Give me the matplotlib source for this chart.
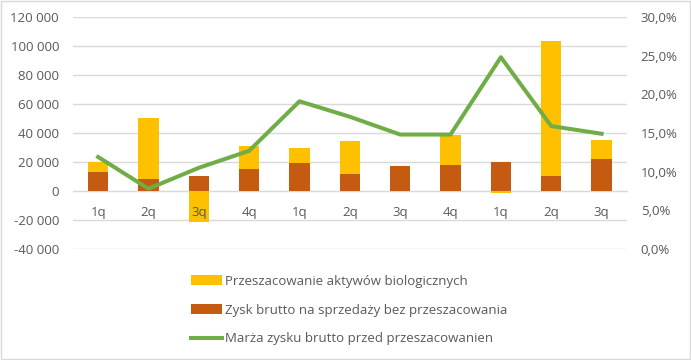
import matplotlib.pyplot as plt
from matplotlib.patches import Rectangle
from matplotlib.ticker import FuncFormatter, MultipleLocator

# data
quarters = ["1q", "2q", "3q", "4q", "1q", "2q", "3q", "4q", "1q", "2q", "3q"]
zysk_bez = [13000, 8300, 10300, 15200, 19300, 11700, 17200, 17900, 20000, 10300, 22000]
przeszac = [7000, 42000, -21200, 16000, 10500, 22800, 0, 20700, -1400, 93000, 13200]
marza = [0.119, 0.078, 0.105, 0.127, 0.191, 0.171, 0.148, 0.148, 0.248, 0.159, 0.149]

lbl_yellow = "Przeszacowanie aktywów biologicznych"
lbl_brown = "Zysk brutto na sprzedaży bez przeszacowania"
lbl_line = "Marża zysku brutto przed przeszacowanien"

plt.rcParams['font.family'] = ['Open Sans', 'DejaVu Sans']
txt_col = "#595959"

fig = plt.figure(figsize=(6.91, 3.6), dpi=100)
ax = fig.add_axes([0.1056, 0.3083, 0.8014, 0.6445])

x = list(range(len(quarters)))
ax.bar(x, zysk_bez, width=0.4, color="#C55A11", label=lbl_brown, zorder=2)
bottoms = [z if p >= 0 else 0 for z, p in zip(zysk_bez, przeszac)]
ax.bar(x, przeszac, width=0.4, bottom=bottoms, color="#FFC000", label=lbl_yellow, zorder=2)

ax.set_xlim(-0.5, len(quarters) - 0.5)
ax.set_ylim(-40000, 120000)
ax.yaxis.set_major_locator(MultipleLocator(20000))
ax.yaxis.set_major_formatter(FuncFormatter(lambda v, p: f"{int(v):,}".replace(",", " ")))
ax.grid(axis="y", color="#d9d9d9", lw=1)
ax.set_axisbelow(True)
ax.xaxis.set_zorder(3)  # quarter labels sit on top of the bars

for s in ["top", "left", "right"]:
    ax.spines[s].set_visible(False)
ax.spines["bottom"].set_position(("data", 0))
ax.spines["bottom"].set_color("#d9d9d9")
ax.spines["bottom"].set_zorder(1)
ax.set_xticks(x)
ax.set_xticklabels(quarters)
ax.tick_params(axis="x", length=0, pad=11, labelsize=9.5, labelcolor=txt_col)
ax.tick_params(axis="y", length=0, pad=10, labelsize=9.5, labelcolor=txt_col)

ax2 = ax.twinx()
ax2.plot(x, marza, color="#70AD47", lw=2.9, label=lbl_line, zorder=3, solid_joinstyle="round")
ax2.set_ylim(0, 0.30)
ax2.yaxis.set_major_locator(MultipleLocator(0.05))
ax2.yaxis.set_major_formatter(FuncFormatter(lambda v, p: f"{v*100:.1f}%".replace(".", ",")))
ax2.tick_params(axis="y", length=0, pad=10, labelsize=9.5, labelcolor=txt_col)
for s in ax2.spines.values():
    s.set_visible(False)

h1, l1 = ax.get_legend_handles_labels()
h2, l2 = ax2.get_legend_handles_labels()
fig.legend([h1[1], h1[0], h2[0]], [l1[1], l1[0], l2[0]],
           loc="upper center", bbox_to_anchor=(0.505, 0.27), ncol=1, frameon=False,
           fontsize=9.5, labelcolor=txt_col, handlelength=2.4, handletextpad=0.2,
           labelspacing=1.2)

fig.patches.append(Rectangle((0.001, 0.002), 0.997, 0.995, transform=fig.transFigure,
                             fill=False, edgecolor="#d9d9d9", lw=1))

fig.savefig("out.png", dpi=100)
